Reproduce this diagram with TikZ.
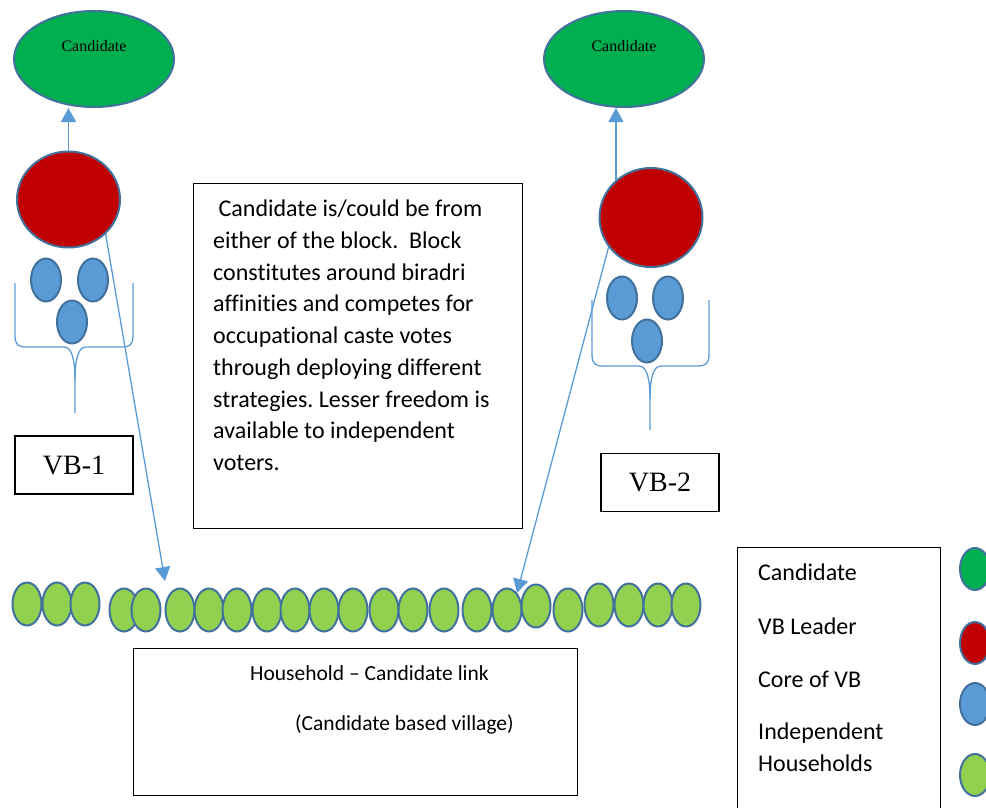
\documentclass[tikz,border=0pt]{standalone}
\usepackage{fontspec}
\setmainfont[Ligatures={TeX,NoCommon,NoContextual}]{Carlito}
\newfontfamily\serifx{Liberation Serif}
\usetikzlibrary{shapes.geometric,arrows.meta}
\frenchspacing

\definecolor{candgreen}{HTML}{00B050}
\definecolor{leadred}{HTML}{C00000}
\definecolor{coreblue}{HTML}{5B9BD5}
\definecolor{hhgreen}{HTML}{92D050}
\definecolor{rim}{HTML}{41719C}
\definecolor{linkblue}{HTML}{5B9BD5}

\begin{document}
\begin{tikzpicture}[x=1pt,y=-1pt,>={Triangle[length=14pt,width=15pt]},
  blob/.style={ellipse,draw=rim,line width=2pt,inner sep=0pt},
  cand/.style={blob,fill=candgreen,minimum width=160pt,minimum height=96pt},
  leader/.style={blob,fill=leadred,minimum width=103pt,minimum height=96pt},
  core/.style={blob,fill=coreblue,minimum width=30pt,minimum height=43pt},
  house/.style={blob,fill=hhgreen,minimum width=29pt,minimum height=43pt},
  link/.style={draw=linkblue,line width=1.3pt},
  box/.style={rectangle,draw=black,line width=1.2pt,inner sep=0pt},
  vbbox/.style={box,minimum width=118pt,minimum height=58pt,font=\serifx\fontsize{28}{32}\selectfont},
  candtxt/.style={font=\serifx\fontsize{16}{18}\selectfont,inner sep=0pt},
  legtxt/.style={anchor=base west,inner sep=0pt,align=left,font=\fontsize{24}{31.5}\selectfont}]

  \useasboundingbox (0,0) rectangle (986,807);
  \clip (0,0) rectangle (986,807);

  % voting block 1
  \node[cand]   (cand1) at (94,59) {};
  \node[candtxt] (cand1txt) at ([yshift=13pt]cand1.center) {Candidate};
  \node[leader] (lead1) at (68.5,199.5) {};
  \node[core]   (core1a) at (46,280) {};
  \node[core]   (core1b) at (93,280) {};
  \node[core]   (core1c) at (72,322) {};
  \draw[link] (15,283) -- (15,335) .. controls (15,345) and (18,347) .. (27,347) -- (64,347)
              .. controls (72,347) and (75,360) .. (75,380) -- (75,413);
  \draw[link] (133,283) -- (133,335) .. controls (133,345) and (130,347) .. (121,347) -- (86,347)
              .. controls (78,347) and (75,360) .. (75,380);
  \node[vbbox] (vb1) at (74,465) {VB-1};

  % voting block 2
  \node[cand]   (cand2) at (624,59) {};
  \node[candtxt] (cand2txt) at ([yshift=13pt]cand2.center) {Candidate};
  \node[leader,minimum height=99pt] (lead2) at (651,217.5) {};
  \node[core]   (core2a) at (622,298) {};
  \node[core]   (core2b) at (668,298) {};
  \node[core]   (core2c) at (647,341) {};
  \draw[link] (592,300) -- (592,354) .. controls (592,364) and (595,366) .. (604,366) -- (639,366)
              .. controls (647,366) and (650,379) .. (650,399) -- (650,430);
  \draw[link] (709,300) -- (709,354) .. controls (709,364) and (706,366) .. (697,366) -- (661,366)
              .. controls (653,366) and (650,379) .. (650,399);
  \node[vbbox] (vb2) at (660,482.5) {VB-2};

  % leaders up to candidates
  \draw[link,->] (lead1.north) -- (lead1.north |- cand1.south);
  \draw[link,->] (lead2.133) -- (lead2.133 |- cand2.south);

  % explanation
  \node[box,minimum width=329pt,minimum height=345pt,anchor=north west] (info) at (193,183) {};
  \node[anchor=north west,inner sep=0pt,align=left,font=\fontsize{24}{31.7}\selectfont] (infotxt) at (213,200)
    {\ Candidate is/could be from\\
     either of the block.\ \ Block\\
     constitutes around biradri\\
     affinities and competes for\\
     occupational caste votes\\
     through deploying different\\
     strategies. Lesser freedom is\\
     available to independent\\
     voters.};

  % independent households
  \foreach \x/\y [count=\i] in {27/604,57/604,85/604,124/610,146/610,180/610,209/610,237/610,
      267/610,295/610,324/610,353/610,384/610,413/610,444/610,477/610,507/610,536/606,
      568/610,599/605,629/605,658/605,686/605}
    \node[house] (hh\i) at (\x,\y) {};

  \coordinate (drop1) at (165,581);
  \coordinate (drop2) at (517,593);
  \draw[link,->] (lead1.-43) -- (drop1);
  \draw[link,->] (lead2.-145) -- (drop2);

  \node[box,minimum width=444pt,minimum height=147pt,anchor=north west] (hhlink) at (133,648) {};
  \node[anchor=base west,inner sep=0pt,font=\fontsize{21.5}{26}\selectfont] (hhlinktxt) at (250,680) {Household \textendash{} Candidate link};
  \node[anchor=base west,inner sep=0pt,font=\fontsize{21.5}{26}\selectfont] (hhlinksub) at (295,730) {(Candidate based village)};

  % legend
  \node[box,minimum width=203pt,minimum height=290pt,anchor=north west] (legend) at (737,547) {};
  \node[legtxt] (legcand) at (758,580) {Candidate};
  \node[legtxt] (leglead) at (758,634) {VB Leader};
  \node[legtxt] (legcore) at (758,687) {Core of VB};
  \node[legtxt] (leghh)   at (758,771) {Independent\\Households};
  \node[blob,fill=candgreen,minimum width=30pt,minimum height=42pt] (keycand) at (975,569) {};
  \node[blob,fill=leadred,minimum width=30pt,minimum height=42pt]   (keylead) at (975,643) {};
  \node[blob,fill=coreblue,minimum width=30pt,minimum height=42pt]  (keycore) at (975,704) {};
  \node[blob,fill=hhgreen,minimum width=30pt,minimum height=42pt]   (keyhh)   at (975,775) {};
\end{tikzpicture}
\end{document}
